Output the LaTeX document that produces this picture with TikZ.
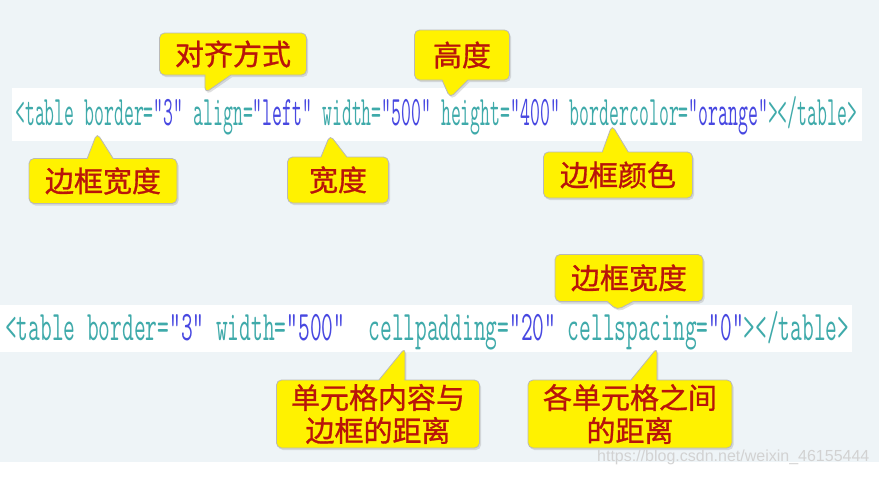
\documentclass[tikz,border=0pt]{standalone}
\usepackage{fontspec}
\usetikzlibrary{shapes.callouts,shadows}
\newfontfamily\cjk[FakeBold=1]{Noto Sans CJK SC}
\newfontfamily\codeA[FakeStretch=0.458]{Latin Modern Mono}
\newfontfamily\codeB[FakeStretch=0.542]{Latin Modern Mono}
\newfontfamily\wmfont{Liberation Sans}
\definecolor{attrcol}{RGB}{63,170,170}
\definecolor{valcol}{RGB}{72,72,225}
\definecolor{notered}{RGB}{185,20,10}
\definecolor{paper}{RGB}{238,244,247}
\newcommand\tagc[1]{\textcolor{attrcol}{#1}}
\newcommand\valc[1]{\textcolor{valcol}{#1}}
\tikzset{callbox/.style={rectangle callout,rounded corners=5pt,fill=yellow,draw=gray!55,line width=.8pt,
  drop shadow={opacity=.25,shadow xshift=1.5pt,shadow yshift=-2pt},callout pointer width=26pt,
  font=\cjk\fontsize{29}{33}\selectfont,text=notered,align=center,inner sep=0pt},
  codeline/.style={anchor=base west,inner sep=0pt}}
\begin{document}
\begin{tikzpicture}[x=1pt,y=-1pt]
\useasboundingbox (0,0) rectangle (879,477);
\fill[white] (0,0) rectangle (879,477);
\fill[paper] (0,0) rectangle (879,462);
% code strips
\fill[white] (12,88) rectangle (862,141);
\fill[white] (0,305) rectangle (852,352);
\node[codeline,font=\codeA\fontsize{42}{46}\selectfont] (lineA) at (15,125)
 {\tagc{<table border=}\valc{"3"} \tagc{align=}\valc{"left"} \tagc{width=}\valc{"500"} \tagc{height=}\valc{"400"} \tagc{bordercolor=}\valc{"orange"}\tagc{></table>}};
\node[codeline,font=\codeB\fontsize{42}{46}\selectfont] (lineB) at (5,340)
 {\tagc{<table border=}\valc{"3"} \tagc{width=}\valc{"500"} ~\tagc{cellpadding=}\valc{"20"} \tagc{cellspacing=}\valc{"0"}\tagc{></table>}};
% pointer tips
\coordinate (pAlign) at (205,93); \coordinate (pHeight) at (450,98);
\coordinate (pBorder) at (97,133); \coordinate (pWidth) at (330,135); \coordinate (pColor) at (612,125);
\coordinate (pSpace) at (617,310); \coordinate (pPad) at (405,348); \coordinate (pBetween) at (657,348);
% callouts
\node[callbox,minimum width=147pt,minimum height=42pt,callout absolute pointer={(pAlign)}] (align) at (233,54) {对齐方式};
\node[callbox,minimum width=95pt,minimum height=50pt,callout absolute pointer={(pHeight)}] (height) at (462,55) {高度};
\node[callbox,minimum width=148pt,minimum height=45pt,callout absolute pointer={(pBorder)}] (border) at (103,181) {边框宽度};
\node[callbox,minimum width=101pt,minimum height=46pt,callout absolute pointer={(pWidth)}] (width) at (338,180) {宽度};
\node[callbox,minimum width=149pt,minimum height=46pt,callout absolute pointer={(pColor)}] (color) at (618,175) {边框颜色};
\node[callbox,minimum width=148pt,minimum height=47pt,callout absolute pointer={(pSpace)}] (spacing) at (629,278) {边框宽度};
\node[callbox,minimum width=203pt,minimum height=68pt,callout absolute pointer={(pPad)}] (padding) at (378,414) {单元格内容与\\边框的距离};
\node[callbox,minimum width=204pt,minimum height=68pt,callout absolute pointer={(pBetween)}] (between) at (630,414) {各单元格之间\\的距离};
% watermark
\node[anchor=base west,inner sep=0pt,text=gray!35,font=\wmfont\fontsize{16}{18}\selectfont] (mark) at (597,461) {https://blog.csdn.net/weixin\_46155444};
\end{tikzpicture}
\end{document}
